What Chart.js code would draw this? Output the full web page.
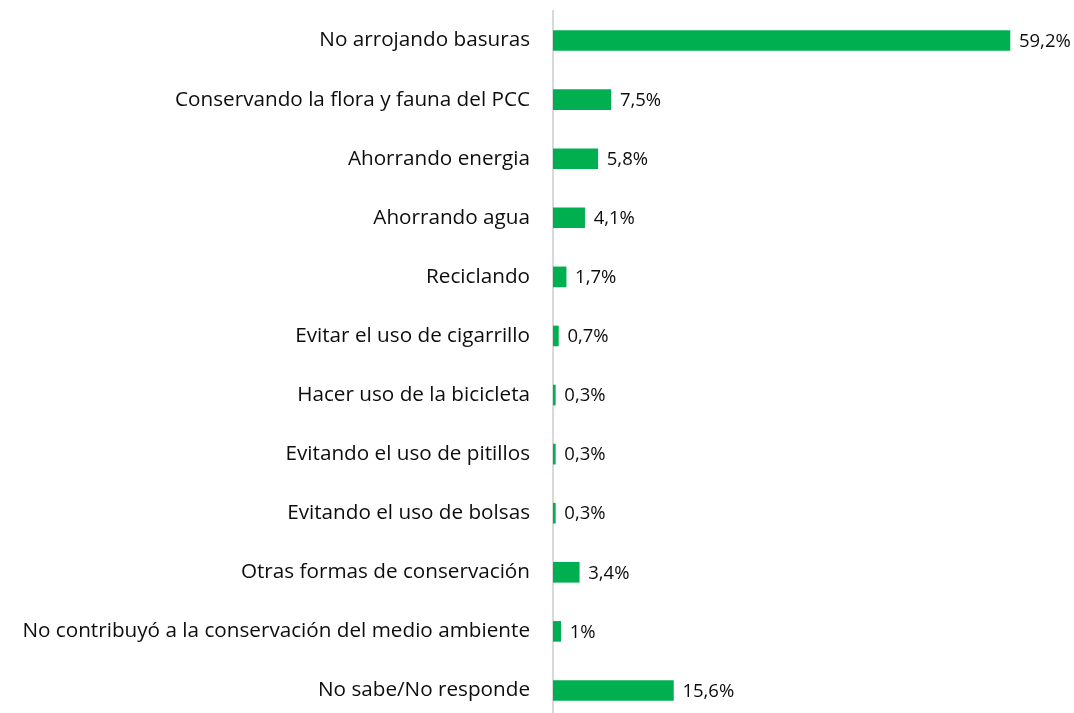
<!DOCTYPE html>
<html>
<head>
<meta charset="utf-8">
<script src="https://cdn.jsdelivr.net/npm/chart.js@4"></script>
<style>
  html, body { margin: 0; padding: 0; background: #fff; overflow: hidden; }
  #wrap { width: 1074px; height: 720px; position: relative; }
</style>
</head>
<body>
<div id="wrap"><canvas id="chart_formasConservacion"></canvas></div>
<script>
// categorias y porcentajes
var categorias = [
    'No arrojando basuras',
    'Conservando la flora y fauna del PCC',
    'Ahorrando energia',
    'Ahorrando agua',
    'Reciclando',
    'Evitar el uso de cigarrillo',
    'Hacer uso de la bicicleta',
    'Evitando el uso de pitillos',
    'Evitando el uso de bolsas',
    'Otras formas de conservación',
    'No contribuyó a la conservación del medio ambiente',
    'No sabe/No responde'
];
var porcentajes = [59.2, 7.5, 5.8, 4.1, 1.7, 0.7, 0.3, 0.3, 0.3, 3.4, 1, 15.6];

var FONT = '"Open Sans", "Liberation Sans", sans-serif';

var chart_formasConservacion = new Chart(document.getElementById('chart_formasConservacion'), {
    type: 'bar',
    data: {
        labels: categorias,
        datasets: [
            {
                label: 'Porcentaje',
                data: porcentajes,
                backgroundColor: '#00B050',
                borderWidth: 0,
                barThickness: 20
            }
        ]
    },
    options: {
        indexAxis: 'y',
        animation: false,
        responsive: true,
        maintainAspectRatio: false,
        layout: {
            padding: { top: 11, bottom: 0, left: 0, right: 0 }
        },
        plugins: {
            legend: { display: false },
            tooltip: { enabled: false }
        },
        scales: {
            x: {
                display: false,
                min: 0,
                max: 67.5
            },
            y: {
                grid: { display: false, drawTicks: false },
                border: { display: true, color: '#D9D9D9', width: 2 },
                ticks: {
                    color: '#0d0d0d',
                    padding: 23,
                    font: { family: FONT, size: 20.7 }
                },
                afterFit: function (scale) {
                    scale.width = 553;
                    scale.paddingTop = 0;
                    scale.paddingBottom = 0;
                }
            }
        }
    },
    plugins: [{
        id: 'etiquetasValor',
        afterDatasetsDraw: function (chart) {
            var ctx = chart.ctx;
            var meta = chart.getDatasetMeta(0);
            ctx.save();
            ctx.fillStyle = '#0d0d0d';
            ctx.font = '18.5px ' + FONT;
            ctx.textAlign = 'left';
            ctx.textBaseline = 'middle';
            meta.data.forEach(function (bar, i) {
                var txt = String(porcentajes[i]).replace('.', ',') + '%';
                ctx.fillText(txt, bar.x + 9, bar.y + 1);
            });
            ctx.restore();
        }
    }, {
        id: 'fondoBlanco',
        beforeDraw: function (chart) {
            var ctx = chart.canvas.getContext('2d');
            ctx.save();
            ctx.globalCompositeOperation = 'destination-over';
            ctx.fillStyle = 'white';
            ctx.fillRect(0, 0, chart.canvas.width, chart.canvas.height);
            ctx.restore();
        }
    }]
});
</script>
</body>
</html>
